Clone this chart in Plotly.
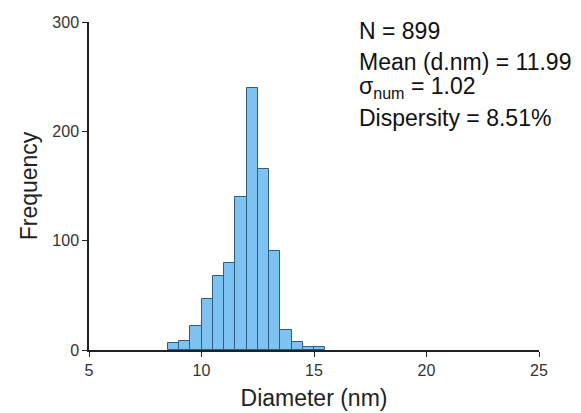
import plotly.graph_objects as go

# Histogram bins (left edges, nm) and counts
bin_left = [8.5, 9.0, 9.5, 10.0, 10.5, 11.0, 11.5, 12.0, 12.5, 13.0, 13.5, 14.0, 14.5, 15.0]
counts = [6, 8, 22, 47, 68, 80, 140, 240, 166, 91, 18, 7, 3, 3]
bin_width = 0.5

x_ticks = [5, 10, 15, 20, 25]
y_ticks = [0, 100, 200, 300]

stats_lines = [
    "N = 899",
    "Mean (d.nm) = 11.99",
    "σ<sub>num</sub> = 1.02",
    "Dispersity = 8.51%",
]

centers = [b + bin_width / 2 for b in bin_left]

fig = go.Figure()
fig.add_trace(go.Bar(
    x=centers, y=counts, width=[bin_width] * len(counts),
    marker=dict(color="#7ec2f1", line=dict(color="#2f5d80", width=1)),
    showlegend=False,
))

font_family = "Liberation Sans, Arial, sans-serif"

# page body has an 8px default margin, so the figure is offset by 8px
fig.update_layout(
    width=573, height=405,
    margin=dict(l=81, r=42, t=14, b=63, pad=0),
    paper_bgcolor="white", plot_bgcolor="white",
    bargap=0,
    font=dict(family=font_family, color="#222"),
    xaxis=dict(
        range=[5, 25], tickvals=x_ticks, ticks="outside", ticklen=5,
        tickcolor="#222", showline=True, linecolor="#222", linewidth=1.5,
        showgrid=False, zeroline=False, automargin=False,
        tickfont=dict(size=16, color="#333"),
        title=dict(text="Diameter (nm)", font=dict(size=23, color="#222"), standoff=12),
    ),
    yaxis=dict(
        range=[0, 300], tickvals=y_ticks, ticks="outside", ticklen=5,
        tickcolor="#222", showline=True, linecolor="#222", linewidth=1.5,
        showgrid=False, zeroline=False, automargin=False,
        tickfont=dict(size=16, color="#333"),
        title=dict(text="Frequency", font=dict(size=23, color="#222"), standoff=8),
    ),
)

y_pos = [0.972, 0.878, 0.80, 0.707]
for txt, yp in zip(stats_lines, y_pos):
    fig.add_annotation(
        text=txt, xref="paper", yref="paper", x=0.595, y=yp,
        xanchor="left", yanchor="middle", showarrow=False,
        font=dict(size=23, color="#111", family=font_family),
    )

fig.write_html("out.html")
